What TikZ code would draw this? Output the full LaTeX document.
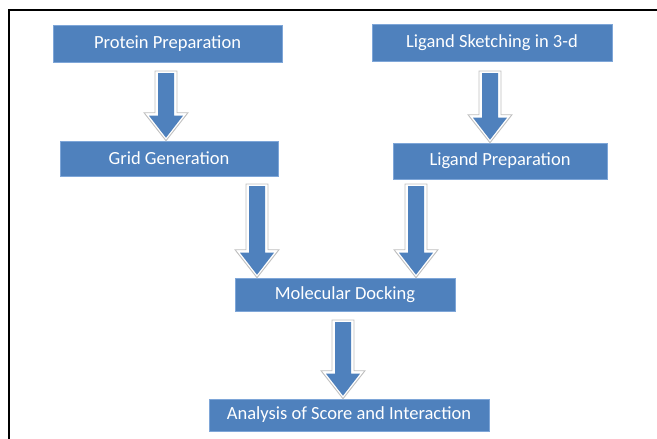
\documentclass[tikz,border=0pt]{standalone}
\usepackage{fontspec}
\setmainfont{Carlito}
\usetikzlibrary{calc}
\definecolor{boxblue}{HTML}{4F81BD}
\definecolor{boxedge}{HTML}{7EA6D8}
\definecolor{arrowedge}{HTML}{C0C0C0}
\tikzset{
  stepbox/.style={rectangle, fill=boxblue, draw=boxedge, line width=0.6pt,
    text=white, font=\fontsize{18.5}{20}\selectfont, inner sep=0pt},
}
\newcommand\blockarrow[2]{%
  \filldraw[fill=white, draw=arrowedge, line width=0.9pt]
    let \p1=(#1), \p2=(#2) in
    (\x1-11pt,\y1+2pt) -- (\x1+11pt,\y1+2pt) -- (\x1+11pt,\y2+28pt) --
    (\x1+22pt,\y2+28pt) -- (\x1,\y2) -- (\x1-22pt,\y2+28pt) --
    (\x1-11pt,\y2+28pt) -- cycle;
  \fill[boxblue]
    let \p1=(#1), \p2=(#2) in
    (\x1-8pt,\y1) -- (\x1+8pt,\y1) -- (\x1+8pt,\y2+25pt) --
    (\x1+17pt,\y2+25pt) -- (\x1,\y2+3pt) -- (\x1-17pt,\y2+25pt) --
    (\x1-8pt,\y2+25pt) -- cycle;
}
\begin{document}
\begin{tikzpicture}[x=1pt,y=-1pt]
\useasboundingbox (0,0) rectangle (657,439);
\draw[black, line width=2pt] (9,439) -- (9,10) -- (657,10);

\node[stepbox, minimum width=229pt, minimum height=37pt] (prot) at (167.5,43.5) {Protein Preparation};
\node[stepbox, minimum width=240pt, minimum height=37pt] (lsk) at (492,42.5) {Ligand Sketching in 3-d};
\node[stepbox, minimum width=218pt, minimum height=35pt] (grid) at (169,158.5) {Grid Generation};
\node[stepbox, minimum width=214pt, minimum height=36pt] (lprep) at (500,161) {Ligand Preparation};
\node[stepbox, minimum width=220pt, minimum height=33pt] (dock) at (345,294.5) {Molecular Docking};
\node[stepbox, minimum width=280pt, minimum height=32pt] (anal) at (349,415) {Analysis of Score and Interaction};

\coordinate (a1s) at (166,73);
\coordinate (a2s) at (490,73);
\coordinate (a3s) at (257,186);
\coordinate (a4s) at (416,186);
\coordinate (a5s) at (343,322);

\blockarrow{a1s}{a1s |- grid.north}
\blockarrow{a2s}{a2s |- lprep.north}
\blockarrow{a3s}{a3s |- dock.north}
\blockarrow{a4s}{a4s |- dock.north}
\blockarrow{a5s}{a5s |- anal.north}
\end{tikzpicture}
\end{document}
